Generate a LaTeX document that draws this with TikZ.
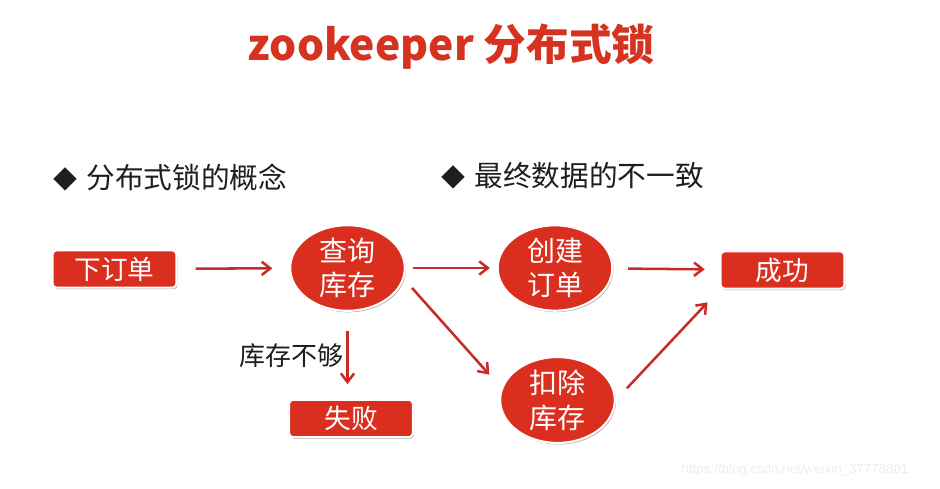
\documentclass[tikz,border=0pt]{standalone}
\usepackage{fontspec}
\setmainfont{Noto Sans CJK SC}
\newfontfamily\urlfont{Liberation Sans}
\usetikzlibrary{arrows.meta,shadows,shapes.geometric}
\definecolor{rojo}{RGB}{218,46,30}
\definecolor{rojot}{RGB}{214,50,32}
\definecolor{flecha}{RGB}{200,44,38}
\definecolor{tinta}{RGB}{30,30,30}
\tikzset{
  caja/.style={rectangle, fill=rojo, draw=white, line width=1.6pt, rounded corners=3pt, minimum width=93pt, minimum height=28pt, inner sep=0pt, text=white, font=\fontsize{20}{24}\selectfont, drop shadow={shadow xshift=0.9pt, shadow yshift=-1.1pt, fill=black, opacity=0.35}},
  elip/.style={ellipse, fill=rojo, draw=white, line width=1.6pt, minimum width=86pt, minimum height=57pt, inner sep=0pt, align=center, text=white, font=\fontsize{21}{26}\selectfont, drop shadow={shadow xshift=0.9pt, shadow yshift=-1.1pt, fill=black, opacity=0.35}},
  titulo/.style={inner sep=0pt, text=rojot, font=\fontsize{32}{36}\selectfont\bfseries},
  vineta/.style={inner sep=0pt, text=tinta, font=\fontsize{21.5}{26}\selectfont},
  etq/.style={inner sep=0pt, text=tinta, font=\fontsize{19.5}{24}\selectfont},
  marca/.style={inner sep=0pt, text=black!7, font=\urlfont\fontsize{10}{12}\selectfont},
  fl/.style={-{Straight Barb[length=6.5pt,width=10pt]}, line width=1.9pt, flecha},
}
\begin{document}
\begin{tikzpicture}[x=0.75pt, y=-0.75pt]
  \useasboundingbox (0,0) rectangle (940,489);
  \node[titulo] (tit) at (451,47) {zookeeper 分布式锁};
  \node[vineta, anchor=west] (v1) at (53,178) {{\fontsize{18}{20}\selectfont◆}\hspace{7pt}分布式锁的概念};
  \node[vineta, anchor=west] (v2) at (441,176) {{\fontsize{18}{20}\selectfont◆}\hspace{7pt}最终数据的不一致};
  \node[caja] (pedido) at (114.5,269) {下订单};
  \node[elip] (consulta) at (347.5,268) {查询\\库存};
  \node[elip] (crear) at (555,268) {创建\\订单};
  \node[caja] (exito) at (782.5,270) {成功};
  \node[caja] (fallo) at (351,418.5) {失败};
  \node[elip] (deducir) at (557.5,400) {扣除\\库存};
  \node[etq, anchor=east] (falta) at (344,356) {库存不够};
  \node[marca] (url) at (795,470) {https://blog.csdn.net/weixin\_37778801};
  \draw[fl, shorten <=13.5pt, shorten >=12.5pt] (pedido) -- (consulta);
  \draw[fl, shorten <=5pt, shorten >=5pt] (consulta) -- (crear);
  \draw[fl, shorten <=11pt, shorten >=11pt] (crear) -- (exito);
  \draw[fl, shorten <=14pt, shorten >=11pt] (consulta.south) -- (consulta.south |- fallo.north);
  \draw[fl, shorten <=9pt, shorten >=13.5pt] (consulta.-11) -- (deducir.168);
  \draw[fl, shorten <=12pt, shorten >=13pt] (deducir.east) -- (exito.south west);
\end{tikzpicture}
\end{document}
